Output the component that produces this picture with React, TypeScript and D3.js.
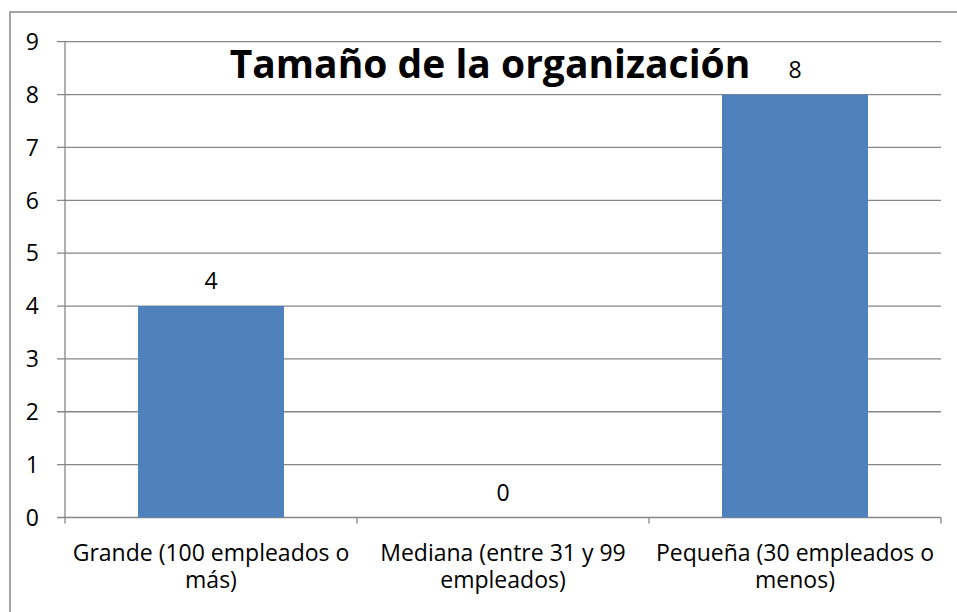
import React from "react";
import * as d3 from "d3";

const categories: string[][] = [
  ["Grande (100 empleados o", "más)"],
  ["Mediana (entre 31 y 99", "empleados)"],
  ["Pequeña (30 empleados o", "menos)"],
];
const values: number[] = [4, 0, 8];
const yTicks: number[] = [0, 1, 2, 3, 4, 5, 6, 7, 8, 9];
const title = "Tamaño de la organización";

export default function App() {
  const W = 957;
  const H = 612;
  const left = 65;
  const right = 941;
  const top = 41.7;
  const bottom = 517.5;
  const x = d3
    .scaleBand<number>()
    .domain(values.map((_, i) => i))
    .range([left, right])
    .paddingInner(0.5)
    .paddingOuter(0.25);
  const y = d3.scaleLinear().domain([0, 9]).range([bottom, top]);
  const font = "'Open Sans', sans-serif";
  const fs = 23;
  const grid = "#868686";
  const catEdges = d3.range(values.length + 1).map((i) => left + ((right - left) * i) / values.length);

  return (
    <svg
      width={W}
      height={H}
      style={{ position: "absolute", left: 0, top: 0, background: "#fff" }}
    >
      <rect x={10} y={12} width={1000} height={700} fill="#fff" stroke="#888" strokeWidth={1.5} />
      {yTicks.map((t) => (
        <g key={t}>
          <line
            x1={left - 8}
            x2={right}
            y1={y(t)}
            y2={y(t)}
            stroke={grid}
            strokeWidth={1.3}
          />
          <text
            x={39}
            y={y(t)}
            dy="0.36em"
            textAnchor="end"
            fontFamily={font}
            fontSize={fs}
            fill="#000"
          >
            {t}
          </text>
        </g>
      ))}
      <line x1={left} x2={left} y1={top} y2={bottom} stroke={grid} strokeWidth={1.3} />
      {catEdges.map((e, i) => (
        <line key={i} x1={e} x2={e} y1={bottom} y2={bottom + 6} stroke={grid} strokeWidth={1.3} />
      ))}
      {values.map((v, i) => {
        const cx = x(i)! + x.bandwidth() / 2;
        return (
          <g key={i}>
            {v > 0 && (
              <rect
                x={x(i)!}
                y={y(v)}
                width={x.bandwidth()}
                height={y(0) - y(v)}
                fill="#4F81BD"
              />
            )}
            <text
              x={cx}
              y={y(v) - 17}
              textAnchor="middle"
              fontFamily={font}
              fontSize={fs}
              fill="#000"
            >
              {v}
            </text>
            <text
              x={cx}
              y={561}
              textAnchor="middle"
              fontFamily={font}
              fontSize={fs}
              fill="#000"
            >
              {categories[i].map((line, j) => (
                <tspan key={j} x={cx} dy={j === 0 ? 0 : 27}>
                  {line}
                </tspan>
              ))}
            </text>
          </g>
        );
      })}
      <text
        x={490}
        y={78}
        textAnchor="middle"
        fontFamily={"'Open Sans', sans-serif"}
        fontWeight="bold"
        fontSize={39}
        fill="#000"
      >
        {title}
      </text>
    </svg>
  );
}
